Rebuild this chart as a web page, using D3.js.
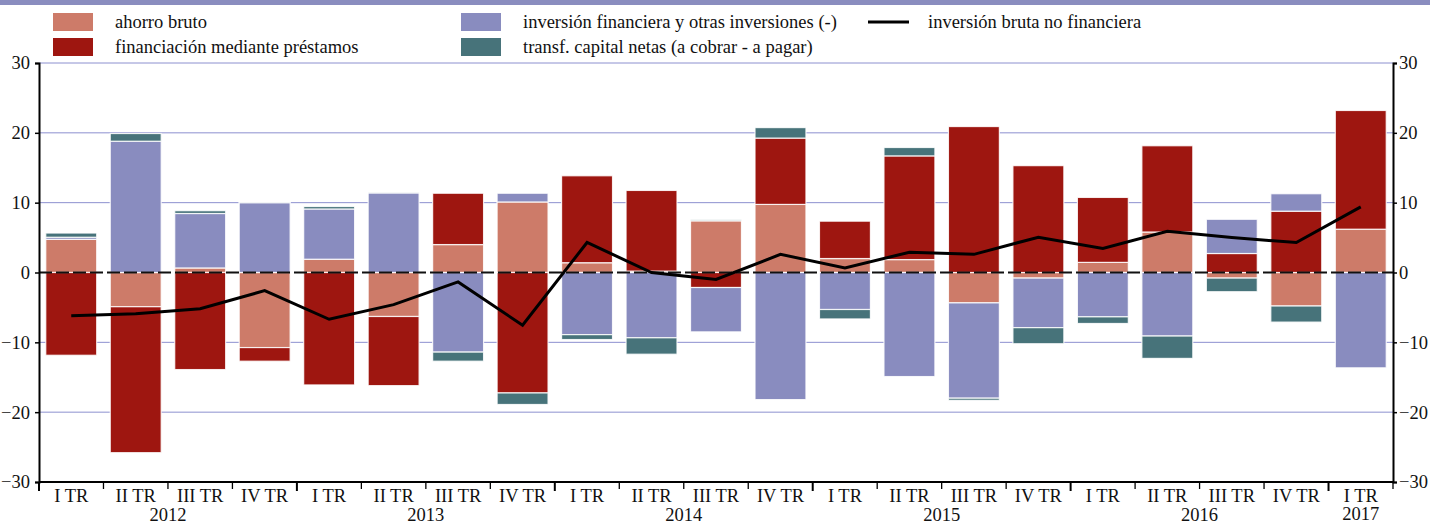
<!DOCTYPE html>
<html>
<head>
<meta charset="utf-8">
<script src="https://cdn.jsdelivr.net/npm/d3@7"></script>
<style>
  body { margin: 0; background: #fff; }
  text { font-family: "Liberation Serif", "DejaVu Serif", serif; fill: #111; }
</style>
</head>
<body>
<div class="canvas"></div>
<script>
// data
const quarters = ["I TR", "II TR", "III TR", "IV TR", "I TR", "II TR", "III TR", "IV TR",
  "I TR", "II TR", "III TR", "IV TR", "I TR", "II TR", "III TR", "IV TR",
  "I TR", "II TR", "III TR", "IV TR", "I TR"];
const years = ["2012", "2013", "2014", "2015", "2016", "2017"];

const ahorro = [4.75, -4.9, 0.65, -10.75, 1.9, -6.3, 4.0, 10.1, 1.4, 0.2, 7.4,
  9.75, 2.0, 1.85, -4.35, -0.8, 1.45, 5.8, -0.8, -4.8, 6.2];
const financiacion = [-11.85, -20.9, -13.9, -1.95, -16.1, -9.9, 7.35, -17.25, 12.45, 11.55, -2.15,
  9.5, 5.35, 14.85, 20.9, 15.3, 9.3, 12.35, 2.72, 8.78, 17.0];
const inversion = [0.3, 18.8, 7.8, 10.0, 7.2, 11.4, -11.4, 1.25, -8.9, -9.35, -6.35,
  -18.2, -5.3, -14.9, -13.65, -7.1, -6.35, -9.1, 4.9, 2.5, -13.65];
const transf = [0.6, 1.1, 0.4, 0.05, 0.35, 0.05, -1.3, -1.65, -0.7, -2.35, 0.15,
  1.5, -1.35, 1.2, -0.3, -2.3, -0.95, -3.2, -1.95, -2.3, 0.0];
const inversionBruta = [-6.2, -5.9, -5.2, -2.6, -6.7, -4.6, -1.35, -7.55, 4.3, 0.0, -1.0,
  2.6, 0.66, 2.9, 2.6, 5.05, 3.44, 5.9, 5.0, 4.3, 9.4];

const yTicks = [-30, -20, -10, 0, 10, 20, 30];

const keys = ["ahorro", "financiacion", "inversion", "transf"];
const colors = {
  ahorro: "#cd7b69",
  financiacion: "#9e1610",
  inversion: "#898cbf",
  transf: "#47737a",
};
const labels = {
  ahorro: "ahorro bruto",
  financiacion: "financiación mediante préstamos",
  inversion: "inversión financiera y otras inversiones (-)",
  transf: "transf. capital netas (a cobrar - a pagar)",
};

const rows = quarters.map((q, i) => ({
  i,
  ahorro: ahorro[i],
  financiacion: financiacion[i],
  inversion: inversion[i],
  transf: transf[i],
}));

const fontSize = 18.5;
const width = 1430;
const height = 526;
const margin = { top: 63, right: 37, bottom: 44, left: 39 };
const graphWidth = width - margin.left - margin.right;
const graphHeight = height - margin.top - margin.bottom;

const svg = d3
  .select(".canvas")
  .append("svg")
  .attr("width", width)
  .attr("height", height);

// top band
svg.append("rect")
  .attr("x", 0).attr("y", 0)
  .attr("width", width).attr("height", 5)
  .attr("fill", "#8a8dbf");

const graph = svg
  .append("g")
  .attr("transform", `translate(${margin.left}, ${margin.top})`);

// scales
const x = d3.scaleBand()
  .domain(d3.range(quarters.length))
  .range([0, graphWidth])
  .paddingInner(0.21)
  .paddingOuter(0.105);
const y = d3.scaleLinear().domain([-30, 30]).range([graphHeight, 0]);

// gridlines
graph.append("g")
  .selectAll("line")
  .data(yTicks.filter((d) => d !== 0 && d !== -30))
  .enter()
  .append("line")
  .attr("x1", 0)
  .attr("x2", graphWidth)
  .attr("y1", (d) => y(d))
  .attr("y2", (d) => y(d))
  .attr("stroke", "#8c90cf")
  .attr("stroke-width", 1);

// stacked bars
const series = d3.stack()
  .keys(keys)
  .offset(d3.stackOffsetDiverging)(rows);

graph.append("g")
  .selectAll("g")
  .data(series)
  .enter()
  .append("g")
  .attr("fill", (s) => colors[s.key])
  .selectAll("rect")
  .data((s) => s)
  .enter()
  .append("rect")
  .attr("x", (d) => x(d.data.i))
  .attr("width", x.bandwidth())
  .attr("y", (d) => y(Math.max(d[0], d[1])))
  .attr("height", (d) => Math.abs(y(d[0]) - y(d[1])))
  .attr("stroke", "#fff")
  .attr("stroke-opacity", 0.85)
  .attr("stroke-width", 1.2);

// zero line
graph.append("line")
  .attr("x1", 0)
  .attr("x2", graphWidth)
  .attr("y1", y(0))
  .attr("y2", y(0))
  .attr("stroke", "#111")
  .attr("stroke-width", 2)
  .attr("stroke-dasharray", "13,4");

// line
const line = d3.line()
  .x((d, i) => x(i) + x.bandwidth() / 2)
  .y((d) => y(d));

graph.append("path")
  .datum(inversionBruta)
  .attr("fill", "none")
  .attr("stroke", "#000")
  .attr("stroke-width", 3)
  .attr("stroke-linejoin", "miter")
  .attr("d", line);

// axes
const yAxisLeft = d3.axisLeft(y).tickValues(yTicks).tickSize(4).tickPadding(5);
const yAxisRight = d3.axisRight(y).tickValues(yTicks).tickSize(4).tickPadding(2);

const leftG = graph.append("g").call(yAxisLeft);
const rightG = graph.append("g")
  .attr("transform", `translate(${graphWidth}, 0)`)
  .call(yAxisRight);

[leftG, rightG].forEach((g) => {
  g.select(".domain").attr("stroke", "#000").attr("stroke-width", 2);
  g.selectAll(".tick line").attr("stroke", "#000").attr("stroke-width", 1.5);
  g.selectAll("text")
    .attr("font-size", fontSize)
    .attr("font-family", "Liberation Serif")
    .attr("fill", "#111");
});

// bottom axis
const xAxisG = graph.append("g").attr("transform", `translate(0, ${graphHeight})`);
xAxisG.append("line")
  .attr("x1", 0).attr("x2", graphWidth)
  .attr("stroke", "#000").attr("stroke-width", 2);

const step = x.step();
xAxisG.selectAll(".sep")
  .data(d3.range(quarters.length + 1))
  .enter()
  .append("line")
  .attr("x1", (d) => d * step)
  .attr("x2", (d) => d * step)
  .attr("y1", 0)
  .attr("y2", (d) => (d % 4 === 0 ? 9 : 7))
  .attr("stroke", "#000")
  .attr("stroke-width", (d) => (d % 4 === 0 ? 2 : 1.3));

xAxisG.selectAll(".qlabel")
  .data(quarters)
  .enter()
  .append("text")
  .attr("x", (d, i) => x(i) + x.bandwidth() / 2)
  .attr("y", 20)
  .attr("text-anchor", "middle")
  .attr("font-size", fontSize)
  .text((d) => d);

xAxisG.selectAll(".ylabel")
  .data(years)
  .enter()
  .append("text")
  .attr("x", (d, i) => {
    const first = i * 4;
    const last = Math.min(first + 3, quarters.length - 1);
    return (x(first) + x(last) + x.bandwidth()) / 2;
  })
  .attr("y", (d, i) => (i === years.length - 1 ? 38 : 39))
  .attr("text-anchor", "middle")
  .attr("font-size", fontSize)
  .text((d) => d);

// legend
const legend = svg.append("g");
const legendItems = [
  { key: "ahorro", x: 53, y: 13 },
  { key: "financiacion", x: 53, y: 38 },
  { key: "inversion", x: 461, y: 13 },
  { key: "transf", x: 461, y: 38 },
];

legendItems.forEach((item) => {
  legend.append("rect")
    .attr("x", item.x).attr("y", item.y)
    .attr("width", 40).attr("height", 18)
    .attr("fill", colors[item.key]);
  legend.append("text")
    .attr("x", item.x + 62)
    .attr("y", item.y + 15)
    .attr("font-size", fontSize)
    .text(labels[item.key]);
});

legend.append("line")
  .attr("x1", 868).attr("x2", 909)
  .attr("y1", 22).attr("y2", 22)
  .attr("stroke", "#000").attr("stroke-width", 3);
legend.append("text")
  .attr("x", 928).attr("y", 28)
  .attr("font-size", fontSize)
  .text("inversión bruta no financiera");
</script>
</body>
</html>
